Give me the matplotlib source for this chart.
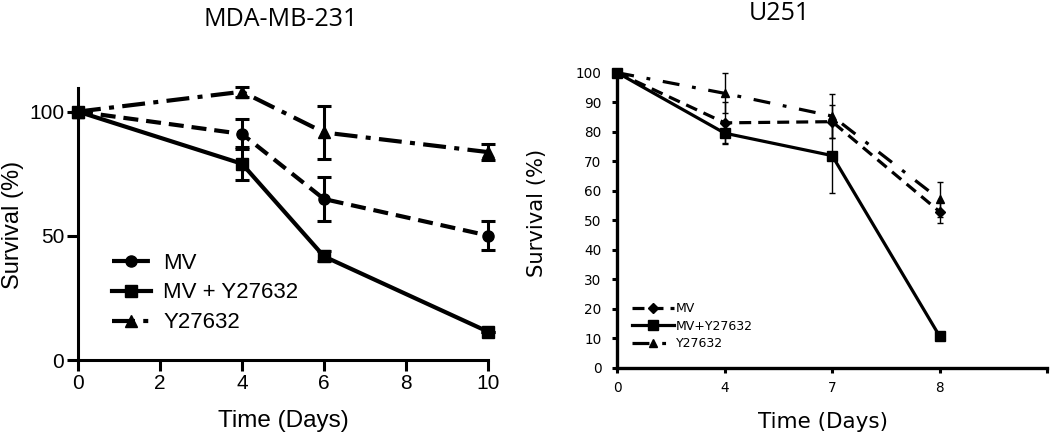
import matplotlib
matplotlib.use("Agg")
import matplotlib.pyplot as plt
import numpy as np

# ---- Data: MDA-MB-231 ----
days_a = [0, 4, 6, 10]
mv_a = [100, 91, 64.8, 50.1]
mv_a_err = [0, 6, 9, 6]
mvy_a = [100, 79, 41.7, 11.4]
mvy_a_err = [0, 6.7, 2, 0]
y_a = [100, 108, 91.6, 83.7]
y_a_err = [0, 2, 10.5, 3.3]

# ---- Data: U251 (categorical time points) ----
days_b_labels = ["0", "4", "7", "8"]
mv_b = [100, 83.0, 83.4, 52.9]
mv_b_err = [0, 7, 5.6, 3.7]
mvy_b = [100, 79.5, 71.9, 10.7]
mvy_b_err = [0, 3.8, 12.6, 0]
y_b = [100, 93.0, 85.3, 57.1]
y_b_err = [0, 6.8, 7.4, 6.0]

series_labels_a = ["MV", "MV + Y27632", "Y27632"]
series_labels_b = ["MV", "MV+Y27632", "Y27632"]

fig = plt.figure(figsize=(10.5, 4.41), dpi=100)
W, H = 1050, 441

# ---------------- Left panel ----------------
axA = fig.add_axes([78 / W, 1 - 360 / H, 410 / W, (360 - 88) / H])
fa = "Liberation Sans"
lwA = 3.0
common = dict(color="black", lw=lwA, elinewidth=2.2, capsize=4.8, capthick=2.2, clip_on=False)
cA1 = axA.errorbar(days_a, mv_a, yerr=mv_a_err, ls=(0, (3.6, 1.9)), marker="o", ms=8, **common)
cA2 = axA.errorbar(days_a, mvy_a, yerr=mvy_a_err, ls="-", marker="s", ms=8.5, **common)
cA3 = axA.errorbar(days_a, y_a, yerr=y_a_err, ls=(0, (5.5, 2, 1.2, 2)), marker="^", ms=9, **common)
axA.set_xlim(0, 10)
axA.set_ylim(0, 109.5)
axA.set_xticks([0, 2, 4, 6, 8, 10])
axA.set_yticks([0, 50, 100])
for s in ["top", "right"]:
    axA.spines[s].set_visible(False)
for s in ["left", "bottom"]:
    axA.spines[s].set_linewidth(2.2)
axA.tick_params(axis="both", length=8, width=2.2, labelsize=15, pad=2)
for t in axA.get_xticklabels() + axA.get_yticklabels():
    t.set_fontfamily(fa)
axA.set_xlabel("Time (Days)", fontsize=17.5, family=fa)
axA.xaxis.set_label_coords(0.5, -(410 - 360) / 272)
axA.set_ylabel("Survival (%)", fontsize=17, family=fa)
axA.yaxis.set_label_coords(-(78 - 24) / 410, (360 - 225) / 272)
axA.legend([cA1.lines[0], cA2.lines[0], cA3.lines[0]], series_labels_a,
           loc="upper left", bbox_to_anchor=(0.083, 0.395), frameon=False,
           prop={"family": fa, "size": 16}, handlelength=1.75,
           handletextpad=0.55, labelspacing=0.4, borderpad=0, borderaxespad=0)

fig.text(281 / W, 1 - 19 / H, "MDA-MB-231", ha="center", va="center",
         fontsize=18, family="Open Sans")

# ---------------- Right panel ----------------
x_b = np.arange(len(days_b_labels))
axB = fig.add_axes([617.3 / W, 1 - 367.7 / H, (1047 - 617.3) / W, (367.7 - 72.7) / H])
lwB = 2.3
commonB = dict(color="black", lw=lwB, elinewidth=1.0, capsize=2.5, capthick=1.0, clip_on=False)
cB1 = axB.errorbar(x_b, mv_b, yerr=mv_b_err, ls=(0, (3.75, 2.2)), marker="D", ms=5, **commonB)
cB2 = axB.errorbar(x_b, mvy_b, yerr=mvy_b_err, ls="-", marker="s", ms=7, **commonB)
cB3 = axB.errorbar(x_b, y_b, yerr=y_b_err, ls=(0, (5.3, 4, 1.2, 4)), marker="^", ms=6, **commonB)
axB.set_xlim(0, 4)
axB.set_ylim(0, 100)
axB.set_xticks([0, 1, 2, 3, 4])
axB.set_xticklabels(days_b_labels + [""])
axB.set_yticks(np.arange(0, 101, 10))
for s in ["top", "right"]:
    axB.spines[s].set_visible(False)
for s in ["left", "bottom"]:
    axB.spines[s].set_linewidth(2.4)
axB.tick_params(axis="both", length=3.5, width=2.2, labelsize=9.8, pad=8)
axB.tick_params(axis="x", pad=6)
axB.set_xlabel("Time (Days)", fontsize=15.5, family="DejaVu Sans")
axB.xaxis.set_label_coords((822.5 - 617.3) / 429.7, -(412 - 367.7) / 295)
axB.set_ylabel("Survival (%)", fontsize=15.2, family="DejaVu Sans")
axB.yaxis.set_label_coords(-(617.3 - 547) / 429.7, (367.7 - 213) / 295)
axB.legend([cB1.lines[0], cB2.lines[0], cB3.lines[0]], series_labels_b,
           loc="upper left", bbox_to_anchor=(0.034, 0.222), frameon=False,
           prop={"family": "DejaVu Sans", "size": 9}, handlelength=3.4,
           handletextpad=0.1, labelspacing=0.35, borderpad=0, borderaxespad=0)

fig.text(779 / W, 1 - 13 / H, "U251", ha="center", va="center",
         fontsize=18, family="Open Sans")

fig.savefig("out.png", dpi=100)
